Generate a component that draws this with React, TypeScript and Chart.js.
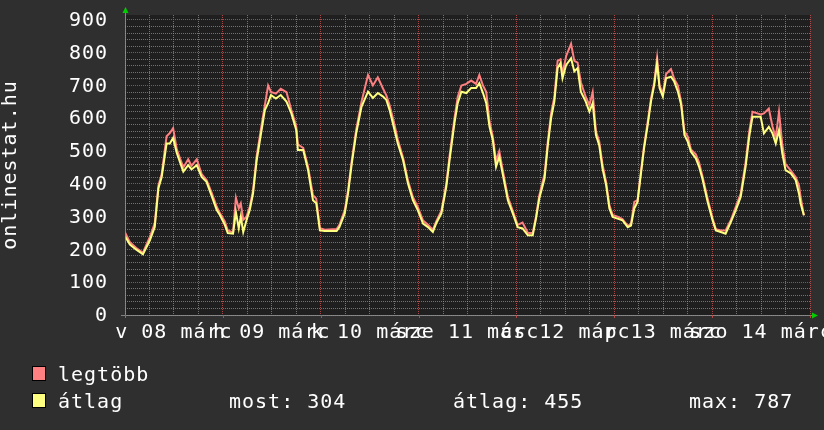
import { useEffect, useRef } from 'react';
import { Chart, registerables } from 'chart.js';

Chart.register(...registerables);

// time in hours since Sunday 08 March 00:00
const hours = [
  0, 1.2, 2.7, 4.4, 6.1, 7.3, 8.2, 9.0, 10.2, 11.0, 11.8, 12.7, 14.3, 15.5, 16.3, 17.6, 18.8, 20.0, 21.2, 22.5, 23.3,
  24.5, 25.2, 26.5, 27.2, 27.9, 28.4, 29.0, 29.8, 30.6, 31.4, 32.3, 33.5, 34.3, 35.1, 35.8, 37.0, 38.2, 39.6, 40.8, 42.0, 42.4, 43.7, 44.9, 46.1, 46.9, 47.8,
  49.0, 51.9, 52.6, 53.9, 54.7, 55.6, 56.7, 58.0, 59.6, 60.8, 62.0, 63.3, 64.1, 64.9, 66.1, 66.9, 68.2, 69.4, 70.6, 71.8,
  73.1, 74.3, 75.5, 76.3, 77.6, 78.8, 79.6, 80.8, 81.6, 82.5, 83.7, 84.9, 86.1, 86.9, 87.8, 88.6, 89.4, 90.2, 91.0, 91.8, 92.6, 93.9, 95.1,
  96.3, 97.5, 98.8, 100.0, 100.8, 101.6, 102.9, 103.7, 104.5, 105.3, 106.1, 106.8, 107.3, 108.2, 109.4, 110.2, 111.0, 111.8, 113.0, 113.9, 114.7, 115.5, 116.3, 117.1, 118.0, 118.8, 119.6,
  120.8, 122.0, 123.3, 124.1, 124.9, 125.7, 126.5, 127.3, 128.2, 129.0, 129.8, 130.5, 131.1, 131.9, 132.7, 133.9, 134.7, 135.6, 136.4, 137.2, 138.0, 138.8, 140.0, 140.8, 141.6, 142.9,
  144.1, 144.9, 146.1, 147.3, 148.6, 149.8, 151.0, 152.2, 153.1, 153.9, 155.9, 156.7, 157.9, 158.8, 159.6, 160.4, 161.2, 162.0, 163.3, 164.5, 165.3, 165.7, 166.5,
];

// "legtöbb" (maximum)
const maxValues = [
  252, 222, 205, 190, 238, 280, 395, 430, 545, 555, 570, 505, 450, 475, 455, 475, 430, 412, 375, 330, 310,
  285, 258, 252, 358, 325, 340, 290, 300, 330, 380, 485, 580, 640, 700, 680, 675, 690, 680, 625, 575, 520, 510, 452, 365, 355, 265,
  260, 262, 275, 320, 380, 470, 565, 650, 732, 700, 725, 690, 670, 640, 580, 535, 480, 410, 360, 330,
  288, 275, 260, 285, 318, 400, 485, 600, 665, 700, 705, 715, 705, 732, 700, 680, 590, 545, 470, 500, 445, 360, 318,
  275, 282, 250, 250, 300, 365, 430, 530, 615, 665, 775, 780, 735, 790, 827, 775, 770, 710, 665, 640, 680, 560, 530, 460, 405, 335, 305,
  300, 293, 272, 278, 345, 350, 435, 515, 590, 660, 710, 785, 700, 675, 735, 750, 720, 700, 650, 560, 545, 505, 490, 465, 425, 355,
  295, 262, 258, 258, 290, 330, 370, 465, 560, 620, 612, 615, 630, 575, 540, 620, 520, 460, 440, 420, 395, 360, 304,
];

// "átlag" (average)
const avgValues = [
  240, 215, 200, 185, 228, 268, 387, 421, 523, 523, 540, 494, 437, 457, 444, 457, 421, 406, 365, 320, 304,
  274, 250, 248, 314, 264, 300, 253, 289, 320, 370, 472, 564, 625, 646, 671, 660, 671, 651, 615, 564, 503, 503, 442, 350, 341, 258,
  256, 256, 268, 310, 370, 460, 554, 635, 681, 662, 677, 666, 656, 625, 564, 523, 472, 401, 350, 320,
  279, 268, 253, 279, 310, 391, 472, 585, 646, 681, 677, 692, 692, 707, 677, 646, 574, 534, 452, 483, 432, 350, 310,
  268, 264, 243, 243, 294, 355, 416, 518, 600, 651, 753, 768, 722, 763, 783, 743, 753, 681, 651, 620, 646, 549, 518, 447, 396, 325, 299,
  294, 289, 268, 273, 325, 345, 427, 508, 580, 651, 702, 768, 692, 666, 722, 727, 712, 681, 641, 549, 529, 498, 478, 452, 416, 345,
  289, 258, 253, 248, 284, 320, 360, 452, 544, 605, 605, 554, 574, 554, 523, 564, 493, 442, 432, 411, 370, 340, 304,
];

const dayLabels = ['v 08 márc', 'h 09 márc', 'k 10 márc', 'sze 11 márc', 'cs 12 márc', 'p 13 márc', 'szo 14 márc'];
const dayLabelHours = [12, 36, 60, 84, 108, 132, 156];
const yTickValues = [0, 100, 200, 300, 400, 500, 600, 700, 800, 900];
const yTitle = 'onlinestat.hu';
const seriesNames = ['legtöbb', 'átlag'];
const seriesColors = ['#ff8080', '#ffff80'];
const statTexts = ['most: 304', 'átlag: 455', 'max: 787'];

const FONT = '"DejaVu Sans Mono", monospace';
const MAJOR = 'rgba(200,75,75,0.85)';
const MINOR = 'rgba(150,150,150,0.7)';

const setFont = (ctx: any) => {
  ctx.font = `20px ${FONT}`;
  try {
    ctx.letterSpacing = '1px';
  } catch (e) {
    /* ignore */
  }
};

const decor = {
  id: 'decor',
  beforeDraw(chart: any) {
    const { ctx, chartArea: a } = chart;
    ctx.save();
    ctx.fillStyle = '#2f2f2f';
    ctx.fillRect(0, 0, chart.width, chart.height);
    ctx.fillStyle = '#1f1f1f';
    ctx.fillRect(a.left, a.top, a.right - a.left, a.bottom - a.top);
    ctx.restore();
  },
  afterDraw(chart: any) {
    const { ctx, chartArea: a, scales } = chart;
    const xs = scales.x;
    const ys = scales.y;
    ctx.save();
    // axes
    ctx.strokeStyle = 'rgba(150,150,150,0.8)';
    ctx.lineWidth = 1;
    ctx.beginPath();
    ctx.moveTo(a.left - 4, Math.round(a.bottom) + 0.5);
    ctx.lineTo(a.right + 2, Math.round(a.bottom) + 0.5);
    ctx.moveTo(Math.round(a.left) + 0.5, a.bottom + 3);
    ctx.lineTo(Math.round(a.left) + 0.5, a.top - 3);
    ctx.stroke();
    // major ticks under x axis
    ctx.strokeStyle = MAJOR;
    ctx.beginPath();
    for (let d = 0; d <= 7; d++) {
      const px = Math.round(xs.getPixelForValue(d * 24)) + 0.5;
      ctx.moveTo(px, a.bottom);
      ctx.lineTo(px, a.bottom + 3);
    }
    ctx.stroke();
    // arrows
    ctx.fillStyle = '#00cc00';
    ctx.beginPath();
    const ax = Math.round(a.left) + 0.5;
    ctx.moveTo(ax - 3, a.top - 2);
    ctx.lineTo(ax + 3, a.top - 2);
    ctx.lineTo(ax, a.top - 8);
    ctx.closePath();
    ctx.fill();
    ctx.beginPath();
    const ay = Math.round(a.bottom) + 0.5;
    ctx.moveTo(a.right + 2, ay - 3);
    ctx.lineTo(a.right + 2, ay + 3);
    ctx.lineTo(a.right + 8, ay);
    ctx.closePath();
    ctx.fill();

    ctx.fillStyle = '#ffffff';
    setFont(ctx);
    // y labels
    ctx.textAlign = 'right';
    ctx.textBaseline = 'middle';
    yTickValues.forEach((v) => {
      ctx.fillText(String(v), 108, ys.getPixelForValue(v) + 1);
    });
    // x labels
    ctx.textAlign = 'center';
    ctx.textBaseline = 'alphabetic';
    dayLabels.forEach((t, i) => {
      ctx.fillText(t, xs.getPixelForValue(dayLabelHours[i]), 338);
    });
    // y title
    ctx.save();
    ctx.translate(11, 165);
    ctx.rotate(-Math.PI / 2);
    ctx.textAlign = 'center';
    ctx.textBaseline = 'middle';
    ctx.fillText(yTitle, 0, 0);
    ctx.restore();
    // legend
    ctx.textAlign = 'left';
    const rows = [381, 408];
    seriesNames.forEach((n, i) => {
      ctx.fillStyle = seriesColors[i];
      ctx.fillRect(32, rows[i] - 15, 14, 15);
      ctx.strokeStyle = '#000';
      ctx.strokeRect(32.5, rows[i] - 14.5, 13, 14);
      ctx.fillStyle = '#ffffff';
      ctx.fillText(n, 58, rows[i]);
    });
    const statX = [229, 453, 689];
    statTexts.forEach((t, i) => ctx.fillText(t, statX[i], rows[1]));
    ctx.restore();
  },
};

export default function App() {
  const ref = useRef<HTMLCanvasElement>(null);
  useEffect(() => {
    if (!ref.current) return;
    const chart = new Chart(ref.current, {
      type: 'line',
      data: {
        datasets: [
          {
            label: seriesNames[1],
            data: hours.map((h, i) => ({ x: h, y: avgValues[i] })),
            borderColor: seriesColors[1],
            borderWidth: 2,
            pointRadius: 0,
            tension: 0,
            order: 0,
          },
          {
            label: seriesNames[0],
            data: hours.map((h, i) => ({ x: h, y: maxValues[i] })),
            borderColor: seriesColors[0],
            borderWidth: 2,
            pointRadius: 0,
            tension: 0,
            order: 1,
          },
        ],
      },
      plugins: [decor],
      options: {
        responsive: false,
        animation: false,
        events: [],
        layout: { padding: { left: 0, top: 15, right: 14, bottom: 0 } },
        plugins: { legend: { display: false }, tooltip: { enabled: false } },
        scales: {
          x: {
            type: 'linear',
            min: 0,
            max: 168,
            ticks: { display: false, stepSize: 6 },
            grid: {
              drawTicks: false,
              color: (c: any) => (c.tick && c.tick.value % 24 === 0 ? MAJOR : MINOR),
            },
            border: { display: false, dash: [1, 1] },
            afterFit: (s: any) => {
              s.height = 115;
              s.paddingLeft = 0;
              s.paddingRight = 0;
            },
          },
          y: {
            min: 0,
            max: 915,
            ticks: { display: false, stepSize: 20, includeBounds: false },
            grid: {
              drawTicks: false,
              color: (c: any) => (c.tick && c.tick.value % 100 === 0 ? MAJOR : MINOR),
            },
            border: { display: false, dash: [1, 1] },
            afterFit: (s: any) => {
              s.width = 125;
              s.paddingTop = 0;
              s.paddingBottom = 0;
            },
          },
        },
      },
    } as any);
    return () => chart.destroy();
  }, []);
  return (
    <div style={{ position: 'absolute', left: 0, top: 0, width: 824, height: 430 }}>
      <canvas ref={ref} width={824} height={430} style={{ display: 'block', width: 824, height: 430 }} />
    </div>
  );
}
